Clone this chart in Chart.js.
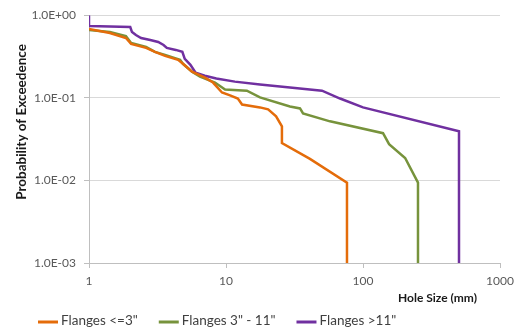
<!DOCTYPE html>
<html>
<head>
<meta charset="utf-8">
<script src="https://cdn.jsdelivr.net/npm/chart.js@4"></script>
<style>
  body { margin: 0; background: #fff; }
  canvas { display: block; }
</style>
</head>
<body>
<canvas id="exceedence" width="520" height="328"></canvas>
<script>
// Hole size (mm) against probability of exceedence, per flange size
const smallX = [1, 1.42, 1.86, 2.03, 2.61, 3.03, 3.59, 4.47, 4.85, 5.65, 7.03, 8.04, 9.35, 10.7, 12.2, 13.1, 17.7, 20.3, 23.2, 25.6, 25.6, 41.0, 76.4, 76.4];
const smallP = [0.679, 0.608, 0.530, 0.449, 0.402, 0.360, 0.322, 0.288, 0.258, 0.207, 0.175, 0.153, 0.116, 0.107, 0.098, 0.083, 0.0765, 0.0724, 0.0597, 0.0452, 0.0283, 0.0182, 0.0094, 0.001];

const midX = [1, 1.42, 1.86, 2.03, 2.61, 3.03, 3.59, 4.62, 4.85, 5.65, 6.46, 8.31, 9.84, 14.2, 17.7, 29.3, 34.7, 36.5, 57.4, 140, 155, 203, 252, 252];
const midP = [0.661, 0.625, 0.560, 0.461, 0.413, 0.360, 0.331, 0.288, 0.258, 0.207, 0.180, 0.153, 0.126, 0.122, 0.101, 0.0786, 0.0744, 0.0648, 0.0519, 0.0373, 0.0275, 0.0187, 0.0094, 0.001];

const largeX = [1, 1, 2.0, 2.06, 2.2, 2.4, 2.8, 3.2, 3.5, 3.7, 4.3, 4.8, 5.0, 5.5, 6.0, 7.0, 8.5, 11.6, 17.7, 29.3, 50.2, 68.0, 100, 502, 502];
const largeP = [1, 0.738, 0.718, 0.625, 0.575, 0.530, 0.501, 0.474, 0.436, 0.402, 0.380, 0.360, 0.296, 0.251, 0.201, 0.185, 0.171, 0.157, 0.145, 0.133, 0.122, 0.098, 0.0765, 0.0394, 0.001];

const seriesNames = ['Flanges <=3"', 'Flanges 3" - 11"', 'Flanges >11"'];
const seriesColors = ['#E46C0A', '#77933C', '#7030A0'];

const xTicks = [1, 10, 100, 1000];
const xTickLabels = ['1', '10', '100', '1000'];
const yTicks = [0.001, 0.01, 0.1, 1];
const yTickLabels = ['1.0E-03', '1.0E-02', '1.0E-01', '1.0E+00'];

const xTitle = 'Hole Size (mm)';
const yTitle = 'Probability of Exceedence';

const FONT = 'Lato, "Open Sans", sans-serif';

function toPoints(xs, ps) {
    return xs.map((x, i) => ({ x: x, y: ps[i] }));
}

const series = [
    toPoints(smallX, smallP),
    toPoints(midX, midP),
    toPoints(largeX, largeP)
];

// axis titles and the legend row under the plot
const annotations = {
    id: 'annotations',
    afterDraw(chart) {
        const ctx = chart.ctx;
        ctx.save();
        ctx.fillStyle = '#1a1a1a';
        ctx.textBaseline = 'middle';

        ctx.font = 'bold 12px ' + FONT;
        ctx.textAlign = 'right';
        ctx.fillText(xTitle, 477, 298);

        ctx.save();
        ctx.font = 'bold 13.5px ' + FONT;
        ctx.translate(22, 122);
        ctx.rotate(-Math.PI / 2);
        ctx.textAlign = 'center';
        ctx.fillText(yTitle, 0, 0);
        ctx.restore();

        ctx.font = '13.5px ' + FONT;
        ctx.textAlign = 'left';
        ctx.fillStyle = '#404040';
        let x = 38;
        const y = 321;
        chart.data.datasets.forEach(ds => {
            ctx.strokeStyle = ds.borderColor;
            ctx.lineWidth = 3;
            ctx.beginPath();
            ctx.moveTo(x, y + 1);
            ctx.lineTo(x + 20, y + 1);
            ctx.stroke();
            ctx.fillText(ds.label, x + 23, y);
            x += 23 + ctx.measureText(ds.label).width + 21;
        });
        ctx.restore();
    }
};

new Chart(document.getElementById('exceedence'), {
    type: 'scatter',
    data: {
        datasets: series.map((pts, i) => ({
            label: seriesNames[i],
            data: pts,
            showLine: true,
            borderColor: seriesColors[i],
            backgroundColor: seriesColors[i],
            borderWidth: 2.5,
            pointRadius: 0,
            tension: 0
        }))
    },
    options: {
        responsive: false,
        animation: false,
        layout: { padding: { left: 0, right: 20, top: 13, bottom: 0 } },
        plugins: {
            legend: { display: false },
            tooltip: { enabled: false }
        },
        scales: {
            x: {
                type: 'logarithmic',
                min: 1,
                max: 1000,
                afterBuildTicks: s => { s.ticks = xTicks.map(v => ({ value: v })); },
                afterFit: s => { s.height = 65; },
                ticks: {
                    autoSkip: false,
                    maxRotation: 0,
                    padding: 6,
                    color: '#595959',
                    font: { family: FONT, size: 12 },
                    callback: v => xTickLabels[xTicks.indexOf(v)]
                },
                grid: { drawOnChartArea: false, tickLength: 5, color: '#bfbfbf' },
                border: { color: '#bfbfbf' }
            },
            y: {
                type: 'logarithmic',
                min: 0.001,
                max: 1,
                afterBuildTicks: s => { s.ticks = yTicks.map(v => ({ value: v })); },
                afterFit: s => { s.width = 89; },
                ticks: {
                    autoSkip: false,
                    padding: 8,
                    color: '#595959',
                    font: { family: FONT, size: 12 },
                    callback: v => yTickLabels[yTicks.indexOf(v)]
                },
                grid: { color: '#d9d9d9', tickLength: 5, tickColor: '#bfbfbf' },
                border: { color: '#bfbfbf' }
            }
        }
    },
    plugins: [annotations]
});
</script>
</body>
</html>
